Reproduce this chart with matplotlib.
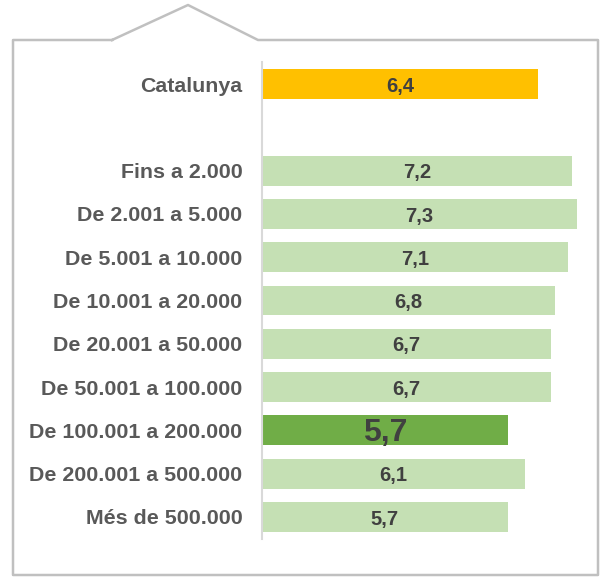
import matplotlib.pyplot as plt
from matplotlib.lines import Line2D

plt.rcParams['font.family'] = ['Liberation Sans', 'DejaVu Sans']

labels = ["Catalunya", "", "Fins a 2.000", "De 2.001 a 5.000", "De 5.001 a 10.000",
          "De 10.001 a 20.000", "De 20.001 a 50.000", "De 50.001 a 100.000",
          "De 100.001 a 200.000", "De 200.001 a 500.000", "Més de 500.000"]
values = [6.4, None, 7.2, 7.3, 7.1, 6.8, 6.7, 6.7, 5.7, 6.1, 5.7]
highlight = 8  # De 100.001 a 200.000

W, H = 602, 577
fig = plt.figure(figsize=(W / 100, H / 100), dpi=100)
ax = fig.add_axes([262 / W, 1 - 538.6 / H, (594 - 262) / W, (538.6 - 62.4) / H])

for i, v in enumerate(values):
    if v is None:
        continue
    if i == 0:
        color = "#FFC000"
    elif i == highlight:
        color = "#70AD47"
    else:
        color = "#C5E0B4"
    ax.barh(i, v, height=0.69, color=color)
    fs = 23 if i == highlight else 14.5
    ax.text(v / 2, i + 0.05, f"{v:.1f}".replace(".", ","), ha="center", va="center",
            fontsize=fs, fontweight="bold", color="#404040")

ax.set_xlim(0, 7.7)
ax.set_ylim(10.5, -0.5)
ax.set_yticks(range(len(labels)))
ax.set_yticklabels(labels, fontsize=15.4, fontweight="bold", color="#595959")
ax.tick_params(axis="y", length=0, pad=14)
ax.set_xticks([])
for s in ["top", "right", "bottom"]:
    ax.spines[s].set_visible(False)
ax.spines["left"].set_color("#D9D9D9")
ax.spines["left"].set_linewidth(1.5)

# outer frame with tab on top
px = [112, 13, 13, 598, 598, 258, 188, 112]
py = [40, 40, 575, 575, 40, 40, 5, 40]
fig.add_artist(Line2D([x / W for x in px], [1 - y / H for y in py],
                      transform=fig.transFigure, color="#C0C0C0", lw=1.8))

fig.savefig("out.png", dpi=100)
